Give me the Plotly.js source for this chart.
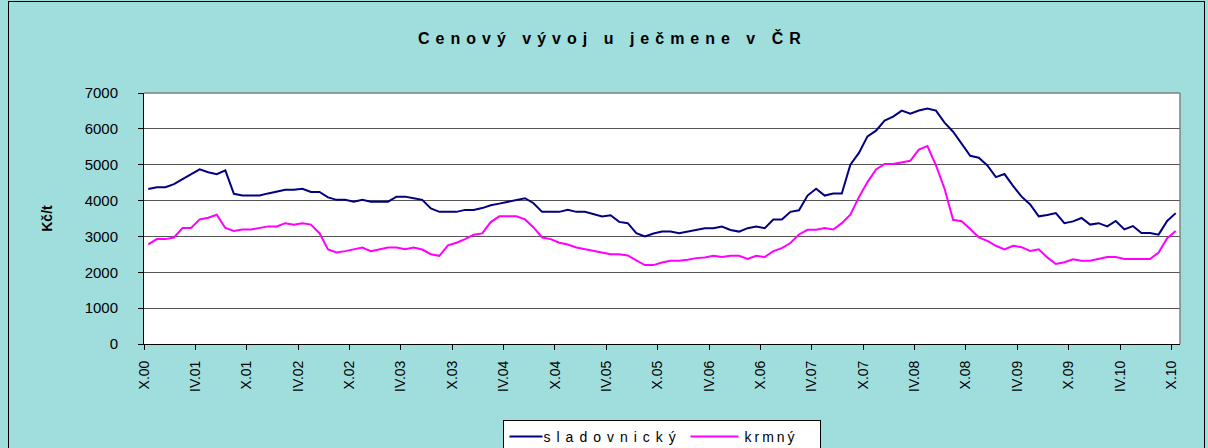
<!DOCTYPE html>
<html>
<head>
<meta charset="utf-8">
<script src="https://cdn.plot.ly/plotly-3.0.1.min.js"></script>
<style>
  html, body { margin: 0; padding: 0; background: #A0DEDE; }
  #wrap { position: relative; width: 1208px; height: 448px; overflow: hidden; }
  #chart { width: 1208px; height: 448px; }
  #frame { position: absolute; left: 8px; top: 1px; width: 1197px; height: 470px;
           border: 1px solid #000; pointer-events: none; box-sizing: border-box; }
</style>
</head>
<body>
<div id="wrap">
  <div id="chart"></div>
  <div id="frame"></div>
</div>
<script>
// Months X.2000 .. X.2010 (121 monthly categories)
const romans = ["I","II","III","IV","V","VI","VII","VIII","IX","X","XI","XII"];
const categories = [];
for (let k = 0; k <= 120; k++) {
  const m = (9 + k) % 12;
  const y = 2000 + Math.floor((9 + k) / 12);
  categories.push(romans[m] + "." + String(y % 100).padStart(2, "0"));
}

const tickLabels = ["X.00","IV.01","X.01","IV.02","X.02","IV.03","X.03","IV.04","X.04","IV.05",
  "X.05","IV.06","X.06","IV.07","X.07","IV.08","X.08","IV.09","X.09","IV.10","X.10"];

const sladovnicky = [
  4320,4370,4370,4460,4600,4730,4870,4790,4735,4840,
  4190,4140,4140,4140,4200,4250,4300,4300,4330,4240,
  4240,4090,4020,4020,3970,4020,3970,3970,3970,4110,
  4110,4065,4020,3780,3685,3685,3685,3740,3740,3790,
  3870,3915,3960,4020,4065,3925,3685,3685,3685,3740,
  3685,3685,3630,3555,3590,3405,3370,3090,3000,3080,
  3135,3135,3090,3135,3180,3230,3230,3275,3180,3135,
  3230,3275,3230,3470,3470,3685,3730,4140,4330,4140,
  4195,4195,5000,5330,5790,5950,6230,6340,6510,6420,
  6510,6570,6510,6175,5920,5585,5250,5195,4980,4655,
  4740,4410,4110,3890,3560,3600,3650,3370,3420,3515,
  3330,3370,3280,3430,3195,3290,3095,3095,3050,3430,
  3650];

const krmny = [
  2780,2925,2925,2970,3235,3235,3475,3520,3605,3235,
  3150,3195,3195,3240,3280,3280,3370,3325,3370,3330,
  3090,2635,2555,2590,2635,2690,2590,2645,2690,2690,
  2645,2690,2635,2505,2460,2750,2825,2925,3045,3085,
  3400,3560,3560,3560,3475,3250,2970,2925,2825,2775,
  2690,2645,2600,2555,2505,2505,2470,2330,2200,2200,
  2275,2320,2320,2350,2395,2415,2460,2425,2460,2460,
  2370,2460,2425,2590,2675,2815,3055,3185,3185,3235,
  3195,3370,3605,4095,4515,4870,5020,5020,5065,5110,
  5420,5520,4980,4330,3465,3425,3205,2975,2875,2740,
  2640,2740,2700,2595,2640,2415,2230,2280,2365,2320,
  2325,2370,2425,2425,2370,2370,2370,2370,2550,2950,
  3150];

const xIdx = categories.map((_, i) => i);
const tickPos = tickLabels.map((_, k) => k * 6 - 0.5);

const FONT = "Arial, 'Liberation Sans', sans-serif";

const traces = [
  { x: xIdx, y: sladovnicky, text: categories, type: "scatter", mode: "lines",
    name: "sladovnický", line: { color: "#000080", width: 2 },
    hovertemplate: "%{text}: %{y}<extra></extra>" },
  { x: xIdx, y: krmny, text: categories, type: "scatter", mode: "lines",
    name: "krmný", line: { color: "#FF00FF", width: 2 },
    hovertemplate: "%{text}: %{y}<extra></extra>" },
  // empty trace that only activates the tick-mark axes below (draws nothing)
  { x: [], y: [], xaxis: "x2", yaxis: "y2", type: "scatter", mode: "lines",
    showlegend: false, hoverinfo: "skip" }
];

const layout = {
  width: 1208, height: 448,
  margin: { l: 144, r: 28, t: 93, b: 104 },
  paper_bgcolor: "#A0DEDE",
  plot_bgcolor: "#FFFFFF",
  font: { family: FONT, color: "#000000", size: 14 },
  title: { text: "<b>Cenový vývoj u ječmene v ČR</b>", font: { family: FONT, size: 16, color: "#000" },
           xref: "container", x: 0.507, xanchor: "center", yref: "container", y: 0.915, yanchor: "middle" },
  showlegend: true,
  legend: { orientation: "h", xref: "paper", x: 0.5, xanchor: "center",
            yref: "container", y: 0.0625, yanchor: "top",
            bgcolor: "#FFFFFF", bordercolor: "#000000", borderwidth: 1,
            font: { family: FONT, size: 14, color: "#000" }, entrywidth: 156 },
  // label axes: invisible long ticks push the labels away from the plot
  xaxis: {
    type: "linear", range: [-0.5, 120.5], tickmode: "array", tickvals: tickPos, ticktext: tickLabels,
    tickangle: -90, ticks: "outside", ticklen: 10, tickcolor: "rgba(0,0,0,0)", tickwidth: 1,
    showline: true, linecolor: "#000", linewidth: 1, mirror: false,
    showgrid: false, zeroline: false, tickfont: { family: FONT, size: 14 }, fixedrange: true,
    automargin: false
  },
  yaxis: {
    range: [0, 7000], dtick: 1000, tick0: 0, ticks: "outside", ticklen: 22, tickcolor: "rgba(0,0,0,0)",
    showline: true, linecolor: "#000", linewidth: 1, showgrid: true, gridcolor: "#555555", gridwidth: 1,
    zeroline: false, tickfont: { family: FONT, size: 15 }, automargin: false,
    title: { text: "<b>Kč/t</b>", font: { family: FONT, size: 14 }, standoff: 20 }, fixedrange: true
  },
  // tick-mark axes: short visible ticks, no labels
  xaxis2: {
    overlaying: "x", anchor: "y", side: "bottom", type: "linear", range: [-0.5, 120.5],
    tickmode: "array", tickvals: tickPos, showticklabels: false,
    ticks: "outside", ticklen: 5, tickcolor: "#000", tickwidth: 1,
    showline: false, showgrid: false, zeroline: false, fixedrange: true, automargin: false
  },
  yaxis2: {
    overlaying: "y", anchor: "x", side: "left", range: [0, 7000], dtick: 1000, tick0: 0,
    showticklabels: false, ticks: "outside", ticklen: 5, tickcolor: "#000",
    showline: false, showgrid: false, zeroline: false, fixedrange: true, automargin: false
  },
  shapes: [
    { type: "line", xref: "paper", yref: "paper", x0: 0, x1: 1, y0: 1, y1: 1, line: { color: "#808080", width: 1.5 } },
    { type: "line", xref: "paper", yref: "paper", x0: 1, x1: 1, y0: 0, y1: 1, line: { color: "#808080", width: 1.5 } }
  ]
};

function prepend(el, tr) {
  const cur = el.getAttribute("transform") || "";
  el.setAttribute("transform", tr + " " + cur);
}

Plotly.newPlot("chart", traces, layout, { displayModeBar: false, staticPlot: true }).then(() => {
  const t = document.querySelector(".gtitle");
  if (t) t.style.letterSpacing = "6px";
  // y title centred at x = 47 px
  const yt = document.querySelector(".ytitle");
  if (yt) {
    const r = yt.getBoundingClientRect();
    const dx = 47 - (r.left + r.width / 2);
    prepend(yt.parentNode, "translate(" + dx.toFixed(1) + ",0)");
  }
  // legend styling
  const lg = document.querySelector(".legend");
  const items = lg ? lg.querySelectorAll(".traces") : [];
  const spacing = ["6px", "3px"];
  items.forEach((it, i) => {
    const tx = it.querySelector(".legendtext");
    if (tx) tx.style.letterSpacing = spacing[i] || "4px";
    const p = it.querySelector(".legendlines path");
    if (p) p.setAttribute("d", i === 0 ? "M6,0h33" : "M-14,0h48");
  });
  const bg = lg && lg.querySelector("rect.bg");
  if (lg && bg) {
    const targetLeft = 503, targetWidth = 317;
    const curLeft = bg.getBoundingClientRect().left;
    const m = /translate\(\s*([-\d.]+)[ ,]+([-\d.]+)\s*\)/.exec(lg.getAttribute("transform") || "");
    if (m) {
      const nx = parseFloat(m[1]) + (targetLeft - curLeft);
      lg.setAttribute("transform", "translate(" + nx + "," + m[2] + ")");
    }
    bg.setAttribute("width", targetWidth);
  }
});
</script>
</body>
</html>
